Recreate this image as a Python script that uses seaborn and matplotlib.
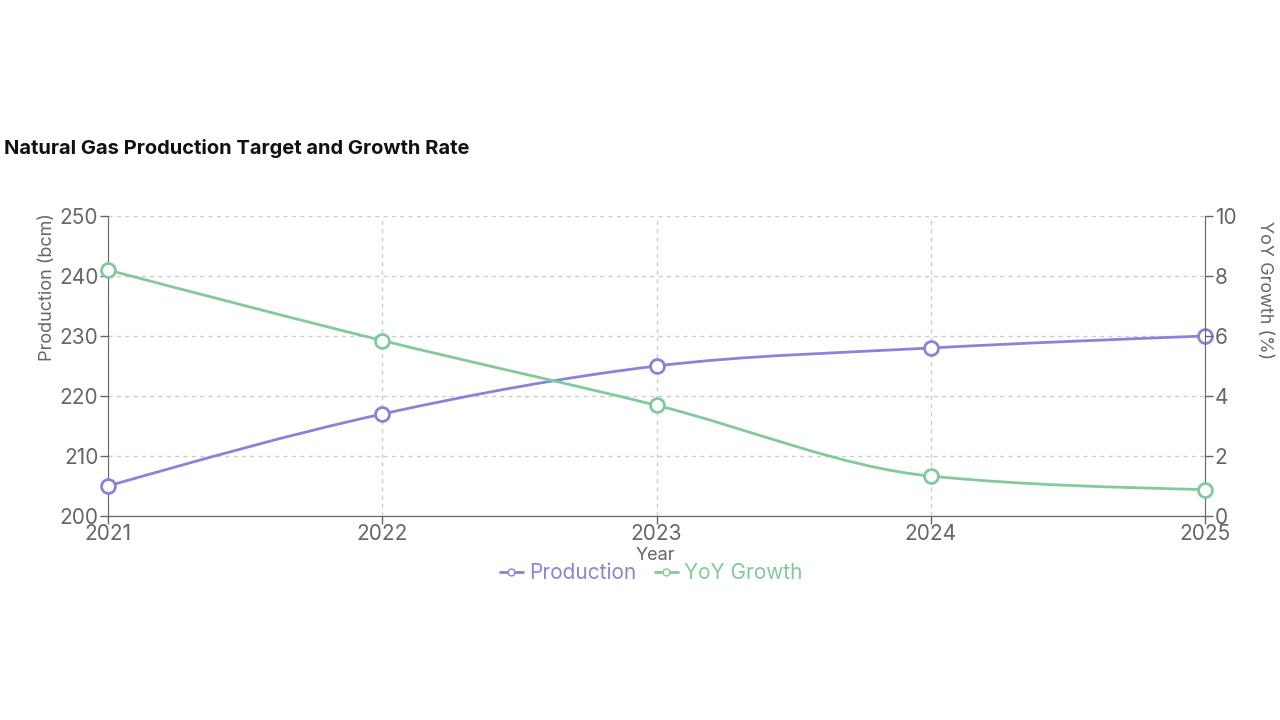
import numpy as np
import pandas as pd
import matplotlib.pyplot as plt
import seaborn as sns
from matplotlib.path import Path
from matplotlib.patches import PathPatch
from matplotlib.lines import Line2D

sns.set_style('white')
plt.rcParams['font.family'] = ['Inter', 'DejaVu Sans']

YEARS = [2021, 2022, 2023, 2024, 2025]
PRODUCTION = [205, 217, 225, 228, 230]
YOY_GROWTH = [8.2, 5.85, 3.69, 1.33, 0.88]

PURPLE = '#8884d8'
GREEN = '#82ca9d'
AXIS_GREY = '#666666'


def monotone_path(xs, ys):
    # same cubic as d3.curveMonotoneX (what recharts uses for type="monotone")
    x = np.asarray(xs, float)
    y = np.asarray(ys, float)
    n = len(x)
    h = np.diff(x)
    s = np.diff(y) / h
    t = np.zeros(n)
    for i in range(1, n - 1):
        p = (s[i - 1] * h[i] + s[i] * h[i - 1]) / (h[i - 1] + h[i])
        t[i] = (np.sign(s[i - 1]) + np.sign(s[i])) * min(abs(s[i - 1]), abs(s[i]), 0.5 * abs(p))
    t[0] = (3 * s[0] - t[1]) / 2
    t[-1] = (3 * s[-1] - t[-2]) / 2
    verts = [(x[0], y[0])]
    codes = [Path.MOVETO]
    for i in range(n - 1):
        dx = h[i] / 3
        verts += [(x[i] + dx, y[i] + dx * t[i]),
                  (x[i + 1] - dx, y[i + 1] - dx * t[i + 1]),
                  (x[i + 1], y[i + 1])]
        codes += [Path.CURVE4] * 3
    return Path(verts, codes)


df = pd.DataFrame({'Year': YEARS, 'Production': PRODUCTION, 'YoY Growth': YOY_GROWTH})

fig = plt.figure(figsize=(12.8, 7.2), dpi=100)
ax = fig.add_axes([108 / 1280, 1 - 516 / 720, 1097 / 1280, 300 / 720])
ax2 = ax.twinx()

ax.add_patch(PathPatch(monotone_path(df['Year'], df['Production']), fill=False,
                       edgecolor=PURPLE, lw=2, zorder=3, clip_on=False))
ax2.add_patch(PathPatch(monotone_path(df['Year'], df['YoY Growth']), fill=False,
                        edgecolor=GREEN, lw=2, zorder=3, clip_on=False))
sns.scatterplot(data=df, x='Year', y='Production', ax=ax, s=100, color='white',
                edgecolor=PURPLE, linewidth=2, zorder=4, legend=False, clip_on=False)
sns.scatterplot(data=df, x='Year', y='YoY Growth', ax=ax2, s=100, color='white',
                edgecolor=GREEN, linewidth=2, zorder=4, legend=False, clip_on=False)

ax.set_xlim(2021, 2025)
ax.set_ylim(200, 250)
ax2.set_ylim(0, 10)
ax.set_xticks(YEARS)
ax.set_yticks(range(200, 251, 10))
ax2.set_yticks(range(0, 11, 2))
ax.grid(True, color='#cccccc', linestyle=(0, (3, 3)), linewidth=1)
ax.set_axisbelow(True)

for a in (ax, ax2):
    a.spines['top'].set_visible(False)
    a.tick_params(colors=AXIS_GREY, labelsize=15, length=6, width=1, pad=1)
    for sp in a.spines.values():
        sp.set_color(AXIS_GREY)
ax.spines['right'].set_visible(False)
ax2.spines['left'].set_visible(False)
ax.tick_params(axis='x', bottom=True, pad=0)
ax.set_xticklabels([str(y) for y in YEARS])
ax.set_xlabel('')
ax.set_ylabel('')
ax2.set_ylabel('')

fig.text(48 / 1280, 1 - 287 / 720, 'Production (bcm)', rotation=90, ha='center', va='center',
         color=AXIS_GREY, fontsize=13)
fig.text(1265 / 1280, 1 - 290 / 720, 'YoY Growth (%)', rotation=-90, ha='center', va='center',
         color=AXIS_GREY, fontsize=13)
fig.text(655 / 1280, 1 - 555 / 720, 'Year', ha='center', va='center', color=AXIS_GREY, fontsize=13)
fig.text(4 / 1280, 1 - 148 / 720, 'Natural Gas Production Target and Growth Rate', ha='left',
         va='center', color='#111111', fontsize=14.5, fontweight='bold')

handles = [Line2D([], [], color=PURPLE, lw=2, marker='o', markersize=5,
                  markerfacecolor='white', markeredgecolor=PURPLE),
           Line2D([], [], color=GREEN, lw=2, marker='o', markersize=5,
                  markerfacecolor='white', markeredgecolor=GREEN)]
leg = fig.legend(handles, ['Production', 'YoY Growth'], loc='center',
                 bbox_to_anchor=(651 / 1280, 1 - 573 / 720), ncol=2, frameon=False,
                 fontsize=15, handlelength=1.1, handletextpad=0.3, columnspacing=0.9)
for txt, c in zip(leg.get_texts(), (PURPLE, GREEN)):
    txt.set_color(c)

fig.savefig('out.png', dpi=100, facecolor='white')
